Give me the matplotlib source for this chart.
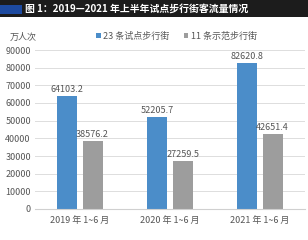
import numpy as np
import matplotlib
matplotlib.use('Agg')
import matplotlib.pyplot as plt
from matplotlib.patches import Rectangle

plt.rcParams['font.family'] = ['Noto Sans CJK SC', 'DejaVu Sans']

# Data
categories = ['2019 年 1~6 月', '2020 年 1~6 月', '2021 年 1~6 月']
pilot_streets = [64103.2, 52205.7, 82620.8]
demo_streets = [38576.2, 27259.5, 42651.4]
series_names = ['23 条试点步行街', '11 条示范步行街']
title = '图 1：2019—2021 年上半年试点步行街客流量情况'

blue = '#4b8dc9'
gray = '#9d9d9d'
text_col = '#555555'

fig = plt.figure(figsize=(3.08, 2.4), dpi=100)
fig.patch.set_facecolor('white')

# Title banner
fig.patches.append(Rectangle((0, 1 - 17/240), 1, 17/240, transform=fig.transFigure,
                             facecolor='#1c1c1c', edgecolor='none', zorder=0))
fig.patches.append(Rectangle((0, 1 - 14/240), 22/308, 9/240, transform=fig.transFigure,
                             facecolor='#1d4aa0', edgecolor='none', zorder=1))
fig.text(25/308, 1 - 8.5/240, title, color='white', fontsize=7.1, fontweight='bold',
         ha='left', va='center')

ax = fig.add_axes([35/308, 31/240, 270/308, 159/240])
x = np.arange(len(categories))
w = 0.223
off = 0.14
b1 = ax.bar(x - off, pilot_streets, w, color=blue, zorder=2)
b2 = ax.bar(x + off, demo_streets, w, color=gray, zorder=2)

for bars, vals in ((b1, pilot_streets), (b2, demo_streets)):
    for r, v in zip(bars, vals):
        ax.text(r.get_x() + r.get_width()/2, v + 1200, f'{v:.1f}', ha='center', va='bottom',
                fontsize=6.5, color=text_col)

ax.set_xlim(-0.5, 2.5)
ax.set_ylim(0, 90000)
ax.set_yticks(np.arange(0, 90001, 10000))
ax.set_yticklabels([str(v) for v in range(0, 90001, 10000)])
ax.set_xticks(x)
ax.set_xticklabels(categories)
ax.tick_params(axis='both', length=0, labelsize=6.5, labelcolor=text_col)
ax.tick_params(axis='y', pad=3)
ax.tick_params(axis='x', pad=5)
ax.grid(axis='y', color='#dddddd', linewidth=0.7, zorder=0)
for s in ['top', 'right', 'left']:
    ax.spines[s].set_visible(False)
ax.spines['bottom'].set_color('#d0d0d0')

# unit label and legend
fig.text(10/308, 1 - 37/240, '万人次', fontsize=6.5, color=text_col, ha='left', va='center')
leg = fig.legend([b1, b2], series_names, loc='center left', bbox_to_anchor=(96/308, 1 - 36/240),
                 ncol=2, frameon=False, fontsize=6.5, handlelength=0.5, handleheight=0.5,
                 handletextpad=0.3, columnspacing=1.6, borderaxespad=0, borderpad=0)
for t in leg.get_texts():
    t.set_color(text_col)

fig.savefig('out.png', dpi=100)
